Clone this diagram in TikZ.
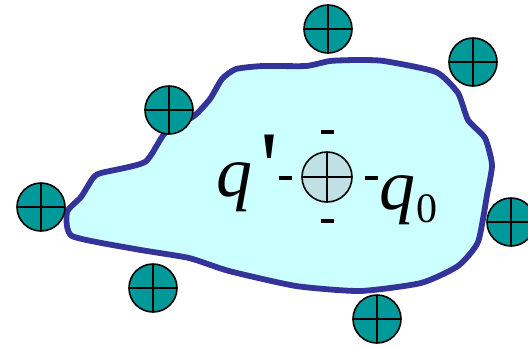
\documentclass[tikz,border=0pt]{standalone}
\usepackage{fontspec}
\setmainfont{Liberation Serif}
\newfontfamily\plainserif{Liberation Serif}
\definecolor{blobfill}{HTML}{CCFFFF}
\definecolor{blobline}{HTML}{333399}
\definecolor{chargeteal}{HTML}{009999}
\definecolor{testfill}{HTML}{BFE0E4}
\tikzset{
  charge/.style={circle, draw=black, line width=1.6pt, fill=chargeteal, minimum size=48pt, inner sep=0pt,
    path picture={\draw[line width=1.6pt] (path picture bounding box.north) -- (path picture bounding box.south)
      (path picture bounding box.west) -- (path picture bounding box.east);}},
  testcharge/.style={charge, fill=testfill, minimum size=50pt},
  minus/.style={line width=3.8pt},
  lbl/.style={inner sep=0pt, anchor=base west, font=\fontsize{72}{72}\selectfont\itshape}
}
\begin{document}
\begin{tikzpicture}[x=1pt,y=-1pt]
\useasboundingbox (0,0) rectangle (528,346);
\draw[blobline, fill=blobfill, line width=5.8pt, line join=round]
  plot[smooth cycle, tension=0.35] coordinates {
  (72,236) (67,212) (81,197) (93,178) (101,173) (145,162) (165,133) (194,116) (210,99) (222,79) (236,69) (263,66) (306,66) (330,61) (357,60) (384,61) (436,72) (458,93) (468,120) (485,138) (492,165) (487,195) (478,242) (458,266) (421,283) (360,291) (296,286) (229,271) (189,258) (135,249)};
\node[charge] (c1) at (328,29) {};
\node[charge] (c2) at (473,62) {};
\node[charge] (c3) at (169,110) {};
\node[charge] (c4) at (41,207) {};
\node[charge] (c5) at (511,222) {};
\node[charge] (c6) at (153,288) {};
\node[charge] (c7) at (377,319) {};
\node[testcharge] (t) at (327,177) {};
\coordinate (mt) at (327,132);
\coordinate (mb) at (327,221);
\coordinate (ml) at (285,178);
\coordinate (mr) at (371,178);
\draw[minus] ([xshift=-6.5pt]mt) -- ([xshift=6.5pt]mt);
\draw[minus] ([xshift=-6.5pt]mb) -- ([xshift=6.5pt]mb);
\draw[minus] ([xshift=-6.5pt]ml) -- ([xshift=6.5pt]ml);
\draw[minus] ([xshift=-6.5pt]mr) -- ([xshift=6.5pt]mr);
\node[lbl] (qp) at (216,196) {q};
\node[inner sep=0pt, anchor=base west, font=\fontsize{100}{100}\selectfont\plainserif] (ap) at (260,200) {'};
\node[lbl] (q0) at (379,209) {q};
\node[inner sep=0pt, anchor=base west, font=\fontsize{42}{42}\selectfont] (z) at (416,222) {0};
\end{tikzpicture}
\end{document}
